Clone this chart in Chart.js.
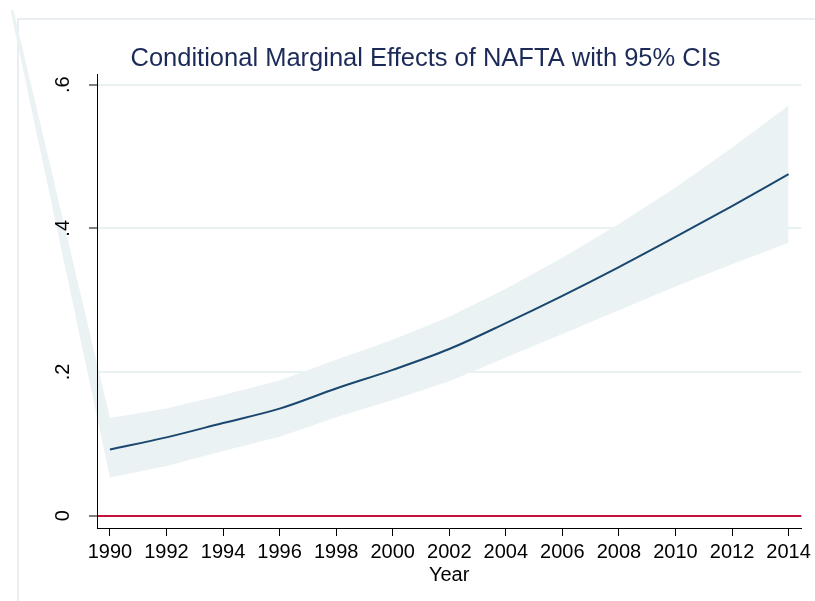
<!DOCTYPE html>
<html>
<head>
<meta charset="utf-8">
<script src="https://cdn.jsdelivr.net/npm/chart.js@4.4.1/dist/chart.umd.min.js"></script>
<style>
  html, body { margin: 0; padding: 0; background: #fff; }
  #wrap { position: relative; width: 815px; height: 601px; overflow: hidden; }
  #frame { position: absolute; left: 17px; top: 18px; width: 900px; height: 700px;
           border-left: 2px solid #e8eef1; border-top: 2px solid #e8eef1; }
  #chart { position: absolute; left: 0; top: 0; }
</style>
</head>
<body>
<div id="wrap">
  <div id="frame"></div>
  <canvas id="chart" width="815" height="601"></canvas>
</div>
<script>
    // marginal effect of NAFTA by year, with 95% CI
    const years   = [1990, 1992, 1994, 1996, 1998, 2000, 2002, 2004, 2006, 2008, 2010, 2012, 2014];
    const effect  = [0.092, 0.109, 0.129, 0.149, 0.177, 0.203, 0.232, 0.268, 0.306, 0.346, 0.388, 0.431, 0.4755];
    const ciUpper = [0.136, 0.149, 0.168, 0.188, 0.217, 0.245, 0.277, 0.316, 0.359, 0.406, 0.457, 0.512, 0.571];
    const ciLower = [0.053, 0.069, 0.090, 0.110, 0.137, 0.161, 0.187, 0.220, 0.253, 0.286, 0.319, 0.350, 0.380];

    // the original rarea polygon runs off to a stray vertex above the top left
    const strayYear = 1985.54;
    const strayValue = 0.878;

    const xTickValues = [1990, 1992, 1994, 1996, 1998, 2000, 2002, 2004, 2006, 2008, 2010, 2012, 2014];
    const yTickValues = [0, 0.2, 0.4, 0.6];
    const yTickLabels = ['0', '.2', '.4', '.6'];

    const xMin = 1989.543, xMax = 2014.45;
    const yMin = -0.0172, yMax = 0.614;

    const font = 'Liberation Sans, Arial, sans-serif';
    const bandColor = '#eaf2f3';

    const toPoints = function(xs, ys) {
        return xs.map(function(x, i) { return {x: x, y: ys[i]}; });
    };

    // filler clips to the plot area, so the wedge out to the stray vertex
    // is filled here, still placed through the chart's scales
    const strayWedge = {
        id: 'strayWedge',
        beforeDatasetsDraw: function(chart) {
            const xs = chart.scales.x, ys = chart.scales.y, ctx = chart.ctx;
            ctx.save();
            ctx.beginPath();
            ctx.rect(0, 10, chart.width, chart.height);
            ctx.clip();
            ctx.fillStyle = bandColor;
            ctx.beginPath();
            ctx.moveTo(xs.getPixelForValue(strayYear), ys.getPixelForValue(strayValue));
            ctx.lineTo(xs.getPixelForValue(years[0]), ys.getPixelForValue(ciUpper[0]));
            ctx.lineTo(xs.getPixelForValue(years[0]), ys.getPixelForValue(ciLower[0]));
            ctx.closePath();
            ctx.fill();
            ctx.restore();
        }
    };

    new Chart(document.getElementById('chart'), {
        type: 'line',
        data: {
            datasets: [{
                label: 'effect',
                data: toPoints(years, effect),
                borderColor: '#1a476f',
                borderWidth: 2,
                pointRadius: 0,
                cubicInterpolationMode: 'monotone',
                fill: false
            }, {
                label: 'upper',
                data: toPoints(years, ciUpper),
                borderWidth: 0,
                borderColor: 'rgba(0,0,0,0)',
                backgroundColor: bandColor,
                pointRadius: 0,
                fill: '+1'
            }, {
                label: 'lower',
                data: toPoints(years, ciLower),
                borderWidth: 0,
                borderColor: 'rgba(0,0,0,0)',
                pointRadius: 0,
                fill: false
            }]
        },
        plugins: [strayWedge],
        options: {
            responsive: false,
            animation: false,
            devicePixelRatio: 1,
            layout: { padding: { left: 45, right: 9, top: 0, bottom: 0 } },
            plugins: {
                legend: { display: false },
                tooltip: { enabled: false },
                title: {
                    display: true,
                    text: 'Conditional Marginal Effects of NAFTA with 95% CIs',
                    color: '#1c2a58',
                    font: { family: font, size: 25.5, weight: 'normal' },
                    padding: { top: 44, bottom: 0 }
                }
            },
            scales: {
                x: {
                    type: 'linear',
                    min: xMin,
                    max: xMax,
                    afterBuildTicks: function(scale) {
                        scale.ticks = xTickValues.map(function(v) { return {value: v}; });
                    },
                    afterFit: function(scale) { scale.height = 73; },
                    ticks: {
                        color: '#000',
                        font: { family: font, size: 20 },
                        padding: 4,
                        maxRotation: 0,
                        autoSkip: false,
                        callback: function(v) { return String(v); }
                    },
                    grid: {
                        drawOnChartArea: false,
                        drawTicks: true,
                        tickLength: 8,
                        tickColor: '#000',
                        tickWidth: 1
                    },
                    border: { display: true, color: '#000', width: 1, z: 1 },
                    title: {
                        display: true,
                        text: 'Year',
                        color: '#000',
                        font: { family: font, size: 20 },
                        padding: { top: 0, bottom: 14 }
                    }
                },
                y: {
                    min: yMin,
                    max: yMax,
                    afterBuildTicks: function(scale) {
                        scale.ticks = yTickValues.map(function(v) { return {value: v}; });
                    },
                    afterFit: function(scale) { scale.width = 52; },
                    ticks: {
                        color: '#000',
                        font: { family: font, size: 20 },
                        padding: 17,
                        z: 1,
                        minRotation: 90,
                        maxRotation: 90,
                        crossAlign: 'center',
                        autoSkip: false,
                        callback: function(v, i) { return yTickLabels[i]; }
                    },
                    grid: {
                        color: function(ctx) {
                            return ctx.tick && ctx.tick.value === 0 ? '#c4123f' : '#eaf1f3';
                        },
                        lineWidth: 2,
                        drawTicks: true,
                        tickLength: 8,
                        tickColor: '#000',
                        tickWidth: 1
                    },
                    border: { display: true, color: '#000', width: 1, z: 1 }
                }
            }
        }
    });
</script>
</body>
</html>
